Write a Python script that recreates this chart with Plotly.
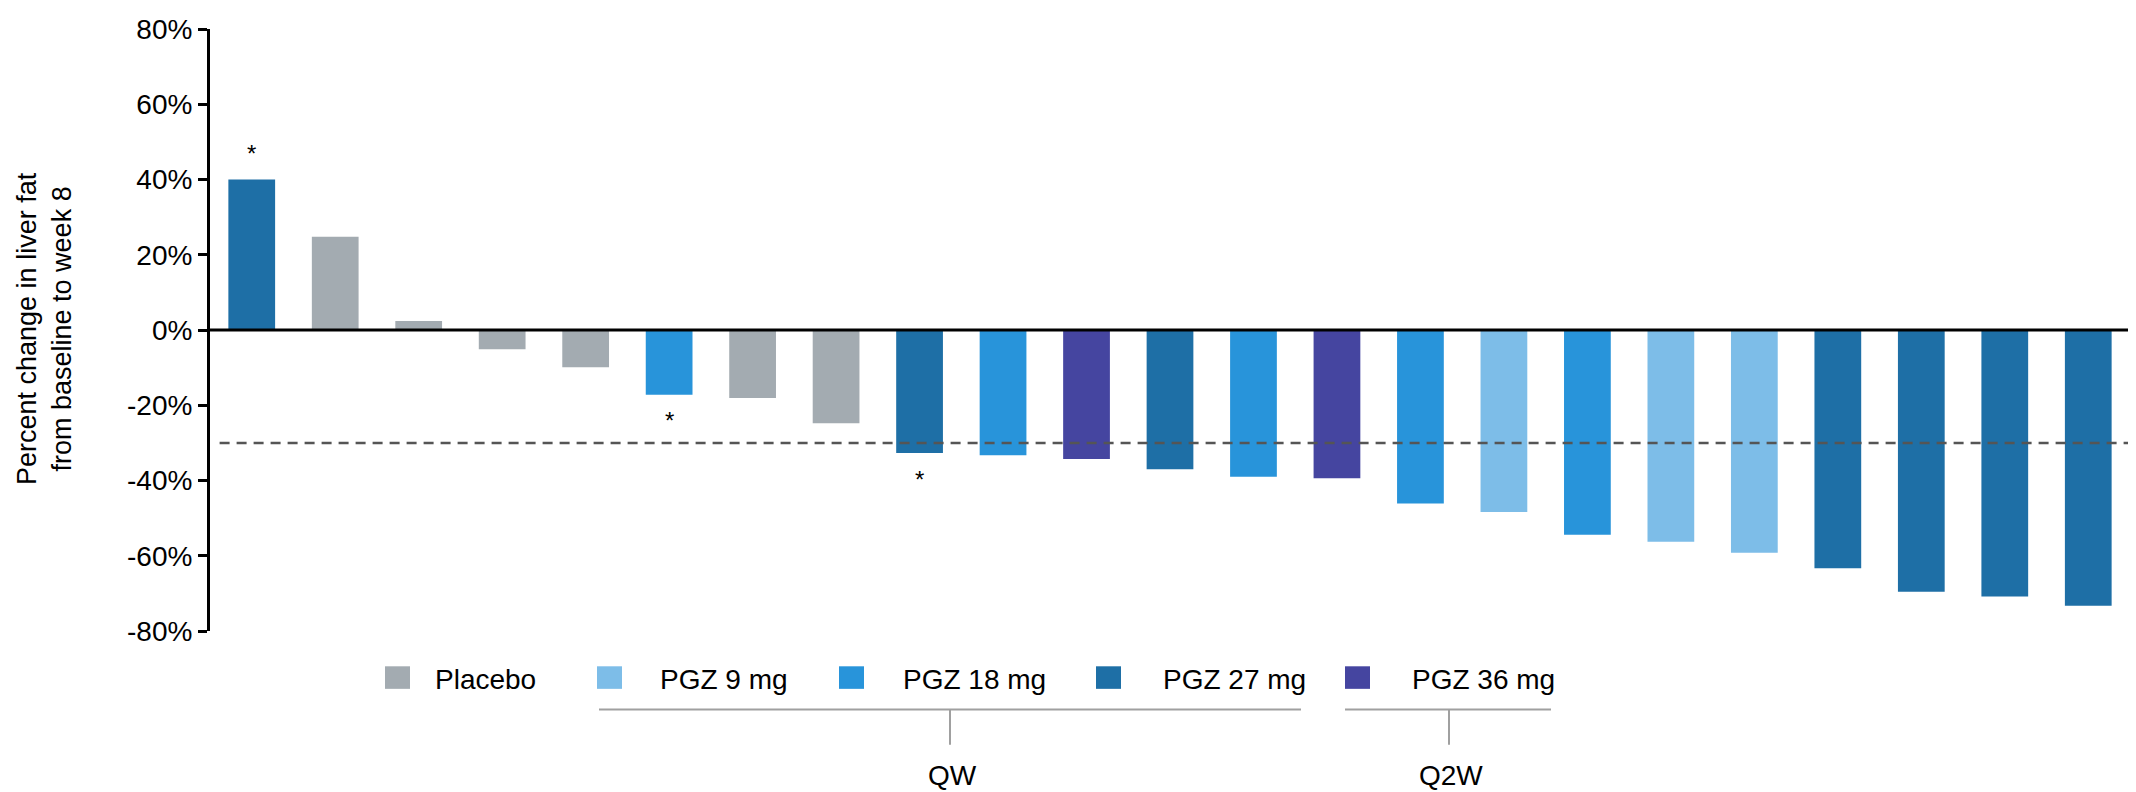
import plotly.graph_objects as go

# ---------------- data ----------------
groups = ["PGZ 27 mg", "Placebo", "Placebo", "Placebo", "Placebo", "PGZ 18 mg",
          "Placebo", "Placebo", "PGZ 27 mg", "PGZ 18 mg", "PGZ 36 mg", "PGZ 27 mg",
          "PGZ 18 mg", "PGZ 36 mg", "PGZ 18 mg", "PGZ 9 mg", "PGZ 18 mg", "PGZ 9 mg",
          "PGZ 9 mg", "PGZ 27 mg", "PGZ 27 mg", "PGZ 27 mg", "PGZ 27 mg"]
values = [40.0, 24.8, 2.4, -5.1, -9.9, -17.2, -18.1, -24.8, -32.7, -33.3, -34.3,
          -37.0, -39.0, -39.4, -46.1, -48.4, -54.4, -56.3, -59.2, -63.3, -69.6,
          -70.8, -73.3]
starred = [0, 5, 8]
threshold = -30
legend_names = ["Placebo", "PGZ 9 mg", "PGZ 18 mg", "PGZ 27 mg", "PGZ 36 mg"]
tick_vals = [80, 60, 40, 20, 0, -20, -40, -60, -80]
tick_text = ["80%", "60%", "40%", "20%", "0%", "-20%", "-40%", "-60%", "-80%"]
bracket_labels = ["QW", "Q2W"]

colors = {
    "Placebo": "#a3abb1",
    "PGZ 9 mg": "#7dbde8",
    "PGZ 18 mg": "#2894da",
    "PGZ 27 mg": "#1e6fa6",
    "PGZ 36 mg": "#4545a0",
}

FONT = "Liberation Sans, Arial, Helvetica, sans-serif"
OFF = 8  # default page body margin
W, H = 2136 - OFF, 792 - OFF
# plot area in page pixels: x 210..2130, y 17..631
L, T = 210 - OFF, 17 - OFF
PW, PH = 1920, 614
R = W - L - PW
B = H - T - PH


def px(x):
    return (x - OFF - L) / PW


def py(y):
    return (T + PH - (y - OFF)) / PH


x_idx = list(range(len(values)))
fig = go.Figure()
fig.add_trace(go.Bar(
    x=x_idx, y=values,
    marker=dict(color=[colors[g] for g in groups], line=dict(width=0)),
    width=0.56, showlegend=False, hoverinfo="skip",
))

shapes = []
annotations = []

# zero line and threshold line
shapes.append(dict(type="line", xref="paper", yref="y", x0=0, x1=1, y0=0, y1=0,
                   line=dict(color="black", width=3), layer="above"))
shapes.append(dict(type="line", xref="paper", yref="y", x0=0.005, x1=1,
                   y0=threshold, y1=threshold,
                   line=dict(color="#555555", width=2.5, dash="10px,7px"), layer="above"))

# asterisks
for i in starred:
    v = values[i]
    annotations.append(dict(x=i, y=v, xref="x", yref="y", text="*", showarrow=False,
                            yshift=26 if v > 0 else -26,
                            font=dict(family=FONT, size=24, color="black")))

# custom legend
sq_left = [385, 597, 839, 1096, 1345]
txt_left = [433, 658, 901, 1161, 1410]
for name, sx, tx in zip(legend_names, sq_left, txt_left):
    shapes.append(dict(type="rect", xref="paper", yref="paper",
                       x0=px(sx), x1=px(sx + 25), y0=py(690), y1=py(667),
                       fillcolor=colors[name], line=dict(width=0)))
    annotations.append(dict(x=px(tx), y=py(680), xref="paper", yref="paper",
                            text=name, showarrow=False, xanchor="left", yanchor="middle",
                            font=dict(family=FONT, size=28, color="black")))

# brackets
brackets = [(599, 1301, 950), (1345, 1551, 1449)]
for lab, (a, b, c) in zip(bracket_labels, brackets):
    shapes.append(dict(type="line", xref="paper", yref="paper", x0=px(a), x1=px(b),
                       y0=py(711), y1=py(711), line=dict(color="#a0a0a0", width=2)))
    shapes.append(dict(type="line", xref="paper", yref="paper", x0=px(c), x1=px(c),
                       y0=py(711), y1=py(747), line=dict(color="#a0a0a0", width=2)))
    annotations.append(dict(x=px(c + 2), y=py(778), xref="paper", yref="paper",
                            text=lab, showarrow=False, xanchor="center", yanchor="middle",
                            font=dict(family=FONT, size=28, color="black")))

# y-axis title
annotations.append(dict(x=px(44), y=py(323), xref="paper", yref="paper",
                        text="Percent change in liver fat<br>from baseline to week 8",
                        textangle=-90, showarrow=False, xanchor="center", yanchor="middle",
                        font=dict(family=FONT, size=27, color="black")))

fig.update_layout(
    width=W, height=H,
    margin=dict(l=L, r=R, t=T, b=B, pad=0),
    paper_bgcolor="white", plot_bgcolor="white",
    shapes=shapes, annotations=annotations,
    bargap=0.44,
    xaxis=dict(range=[-0.5, len(values) - 0.5], showticklabels=False, showgrid=False,
               zeroline=False, showline=False, ticks=""),
    yaxis=dict(range=[-80, 80], tickvals=tick_vals, ticktext=tick_text,
               showgrid=False, zeroline=False, showline=True, linecolor="black",
               linewidth=3, ticks="outside", ticklen=9, tickwidth=3, tickcolor="black",
               ticklabeloverflow="allow",
               tickfont=dict(family=FONT, size=28, color="black")),
    font=dict(family=FONT),
)

fig.write_html("out.html")
